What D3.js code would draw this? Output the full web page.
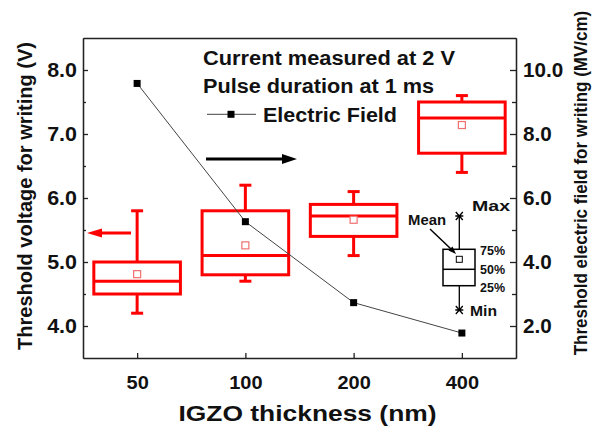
<!DOCTYPE html>
<html>
<head>
<meta charset="utf-8">
<script src="https://cdn.jsdelivr.net/npm/d3@7"></script>
<style>
  body { margin: 0; background: #fff; }
  svg { display: block; }
  text { font-family: "Liberation Sans", Arial, sans-serif; font-weight: bold; fill: #111; }
  .axis path, .axis line { stroke: #222; stroke-width: 1.3; }
</style>
</head>
<body>
<div id="chart"></div>
<script>
// IGZO thickness categories
const thickness = ["50", "100", "200", "400"];

// threshold voltage box stats (V)
const vMin    = [4.2, 4.7, 5.1, 6.4];
const vQ1     = [4.5, 4.8, 5.4, 6.7];
const vMedian = [4.7, 5.1, 5.72, 7.25];
const vQ3     = [5.0, 5.8, 5.9, 7.5];
const vMax    = [5.8, 6.2, 6.1, 7.6];
const vMean   = [4.81, 5.26, 5.66, 7.14];

// electric field (MV/cm)
const field = [9.58, 5.26, 2.73, 1.78];

const leftTicks = [4, 5, 6, 7, 8];
const leftMinor = [4.5, 5.5, 6.5, 7.5];
const rightTicks = [2, 4, 6, 8, 10];
const rightMinor = [3, 5, 7, 9];

var margin = {top: 38, right: 78, bottom: 69, left: 83};
var W = 594, H = 427;
var width = W - margin.left - margin.right;
var height = H - margin.top - margin.bottom;

var svg = d3.select("#chart").append("svg")
    .attr("width", W)
    .attr("height", H);

var g = svg.append("g")
    .attr("transform", "translate(" + margin.left + "," + margin.top + ")");

var x = d3.scalePoint().domain(thickness).range([0, width]).padding(0.5);
var yL = d3.scaleLinear().domain([3.5, 8.5]).range([height, 0]);
var yR = d3.scaleLinear().domain([1, 11]).range([height, 0]);

// stretch text horizontally a bit, the original font is wider
function widen(sel, k) {
    sel.each(function () {
        var w = this.getComputedTextLength();
        d3.select(this).attr("textLength", w * k).attr("lengthAdjust", "spacingAndGlyphs");
    });
}

// axes
g.append("g").attr("class", "axis")
    .call(d3.axisTop(x).tickValues([]).tickSizeOuter(0));

g.append("g").attr("class", "axis")
    .attr("transform", "translate(0," + height + ")")
    .call(d3.axisBottom(x).tickSizeInner(-5).tickSizeOuter(0).tickPadding(18))
    .call(a => a.selectAll("text").style("font-size", "18.5px").call(widen, 1.08));

g.append("g").attr("class", "axis")
    .call(d3.axisLeft(yL).tickValues(leftMinor).tickSizeInner(-3).tickSizeOuter(0).tickFormat(""));
g.append("g").attr("class", "axis")
    .call(d3.axisLeft(yL).tickValues(leftTicks).tickSizeInner(-5).tickSizeOuter(0).tickPadding(6).tickFormat(d3.format(".1f")))
    .call(a => a.selectAll("text").style("font-size", "19.5px").call(widen, 1.1));

g.append("g").attr("class", "axis")
    .attr("transform", "translate(" + width + ",0)")
    .call(d3.axisRight(yR).tickValues(rightMinor).tickSizeInner(-4).tickSizeOuter(0).tickFormat(""));
g.append("g").attr("class", "axis")
    .attr("transform", "translate(" + width + ",0)")
    .call(d3.axisRight(yR).tickValues(rightTicks).tickSizeInner(-6).tickSizeOuter(0).tickPadding(7).tickFormat(d3.format(".1f")))
    .call(a => a.selectAll("text").style("font-size", "19.5px").call(widen, 1.06));

// axis titles
svg.append("text")
    .attr("transform", "translate(32," + (margin.top + height / 2 - 2) + ") rotate(-90)")
    .attr("text-anchor", "middle")
    .style("font-size", "20px")
    .text("Threshold voltage for writing (V)");

svg.append("text")
    .attr("transform", "translate(587,183) rotate(-90) scale(1,1.1)")
    .attr("text-anchor", "middle")
    .style("font-size", "17px")
    .text("Threshold electric field for writing (MV/cm)");

svg.append("text")
    .attr("x", 307.5).attr("y", 421)
    .attr("text-anchor", "middle")
    .style("font-size", "22.5px")
    .attr("textLength", 258).attr("lengthAdjust", "spacingAndGlyphs")
    .text("IGZO thickness (nm)");

// box plots
var bw = x.step() * 0.8;
var capW = 12;
var boxes = thickness.map(function (t, i) {
    return {t: t, min: vMin[i], q1: vQ1[i], med: vMedian[i], q3: vQ3[i], max: vMax[i], mean: vMean[i]};
});

var red = "#ff0000";
var bx = g.selectAll("g.box").data(boxes).enter().append("g").attr("class", "box");

bx.append("line")
    .attr("x1", d => x(d.t)).attr("x2", d => x(d.t))
    .attr("y1", d => yL(d.max)).attr("y2", d => yL(d.q3))
    .attr("stroke", red).attr("stroke-width", 3);
bx.append("line")
    .attr("x1", d => x(d.t)).attr("x2", d => x(d.t))
    .attr("y1", d => yL(d.q1)).attr("y2", d => yL(d.min))
    .attr("stroke", red).attr("stroke-width", 3);
bx.append("line")
    .attr("x1", d => x(d.t) - capW / 2).attr("x2", d => x(d.t) + capW / 2)
    .attr("y1", d => yL(d.max)).attr("y2", d => yL(d.max))
    .attr("stroke", red).attr("stroke-width", 3);
bx.append("line")
    .attr("x1", d => x(d.t) - capW / 2).attr("x2", d => x(d.t) + capW / 2)
    .attr("y1", d => yL(d.min)).attr("y2", d => yL(d.min))
    .attr("stroke", red).attr("stroke-width", 3);
bx.append("rect")
    .attr("x", d => x(d.t) - bw / 2).attr("width", bw)
    .attr("y", d => yL(d.q3)).attr("height", d => yL(d.q1) - yL(d.q3))
    .attr("fill", "none").attr("stroke", red).attr("stroke-width", 3);
bx.append("line")
    .attr("x1", d => x(d.t) - bw / 2).attr("x2", d => x(d.t) + bw / 2)
    .attr("y1", d => yL(d.med)).attr("y2", d => yL(d.med))
    .attr("stroke", red).attr("stroke-width", 3);
bx.append("rect")
    .attr("x", d => x(d.t) - 3.5).attr("y", d => yL(d.mean) - 3.5)
    .attr("width", 7).attr("height", 7)
    .attr("fill", "#fff").attr("stroke", "#f07070").attr("stroke-width", 1.2);

// electric field line
var fieldPts = thickness.map((t, i) => ({t: t, v: field[i]}));
g.append("path")
    .datum(fieldPts)
    .attr("fill", "none").attr("stroke", "#444").attr("stroke-width", 1)
    .attr("d", d3.line().x(d => x(d.t)).y(d => yR(d.v)));
g.selectAll("rect.pt").data(fieldPts).enter().append("rect")
    .attr("class", "pt")
    .attr("x", d => x(d.t) - 3.5).attr("y", d => yR(d.v) - 3.5)
    .attr("width", 7).attr("height", 7).attr("fill", "#000");

// direction arrows
svg.append("line").attr("x1", 131).attr("x2", 100).attr("y1", 233).attr("y2", 233)
    .attr("stroke", red).attr("stroke-width", 3);
svg.append("path").attr("d", "M87,233 L102,228.5 L102,237.5 Z").attr("fill", red);

svg.append("line").attr("x1", 206).attr("x2", 284).attr("y1", 159).attr("y2", 159)
    .attr("stroke", "#000").attr("stroke-width", 3);
svg.append("path").attr("d", "M297,159 L282,154 L282,164 Z").attr("fill", "#000");

// legend text
svg.append("text").attr("x", 203).attr("y", 65).style("font-size", "20px")
    .attr("textLength", 252).attr("lengthAdjust", "spacingAndGlyphs")
    .text("Current measured at 2 V");
svg.append("text").attr("x", 203).attr("y", 92.5).style("font-size", "20px")
    .attr("textLength", 231).attr("lengthAdjust", "spacingAndGlyphs")
    .text("Pulse duration at 1 ms");
svg.append("line").attr("x1", 207).attr("x2", 256).attr("y1", 114.3).attr("y2", 114.3)
    .attr("stroke", "#444").attr("stroke-width", 1);
svg.append("rect").attr("x", 227.5).attr("y", 110.8).attr("width", 7).attr("height", 7).attr("fill", "#000");
svg.append("text").attr("x", 263).attr("y", 121.5).style("font-size", "20px")
    .attr("textLength", 134).attr("lengthAdjust", "spacingAndGlyphs")
    .text("Electric Field");

// box legend
var lg = svg.append("g");
var lx = 459.3;
lg.append("line").attr("x1", lx).attr("x2", lx).attr("y1", 216).attr("y2", 310)
    .attr("stroke", "#000").attr("stroke-width", 1.3);
lg.append("rect").attr("x", 443).attr("y", 249.3).attr("width", 32).attr("height", 36.4)
    .attr("fill", "#fff").attr("stroke", "#000").attr("stroke-width", 1.5);
lg.append("line").attr("x1", 443).attr("x2", 475).attr("y1", 269.3).attr("y2", 269.3)
    .attr("stroke", "#000").attr("stroke-width", 1.5);
lg.append("rect").attr("x", lx - 3).attr("y", 256.3).attr("width", 6).attr("height", 6)
    .attr("fill", "#fff").attr("stroke", "#000").attr("stroke-width", 1);
[216, 310].forEach(function (cy) {
    lg.append("path")
        .attr("d", "M" + (lx - 4) + "," + cy + "h8 M" + (lx - 3.5) + "," + (cy - 4) + "l7,8 M" + (lx + 3.5) + "," + (cy - 4) + "l-7,8")
        .attr("stroke", "#000").attr("stroke-width", 1.3);
});
// mean pointer
lg.append("line").attr("x1", 430).attr("y1", 229).attr("x2", 451).attr("y2", 249)
    .attr("stroke", "#000").attr("stroke-width", 1.5);
lg.append("path").attr("d", "M456,254 L448.5,250.5 L452.5,246.5 Z").attr("fill", "#000");

var lt = [
    {s: "Max", x: 472, y: 211, w: 38, f: 15},
    {s: "Mean", x: 408, y: 225, w: 38, f: 14},
    {s: "75%", x: 480, y: 255, w: 25, f: 13},
    {s: "50%", x: 480, y: 273.5, w: 25, f: 13},
    {s: "25%", x: 480, y: 291.5, w: 25, f: 13},
    {s: "Min", x: 470, y: 316, w: 27, f: 14}
];
lg.selectAll("text").data(lt).enter().append("text")
    .attr("x", d => d.x).attr("y", d => d.y)
    .style("font-size", d => d.f + "px")
    .attr("textLength", d => d.w).attr("lengthAdjust", "spacingAndGlyphs")
    .text(d => d.s);
</script>
</body>
</html>
